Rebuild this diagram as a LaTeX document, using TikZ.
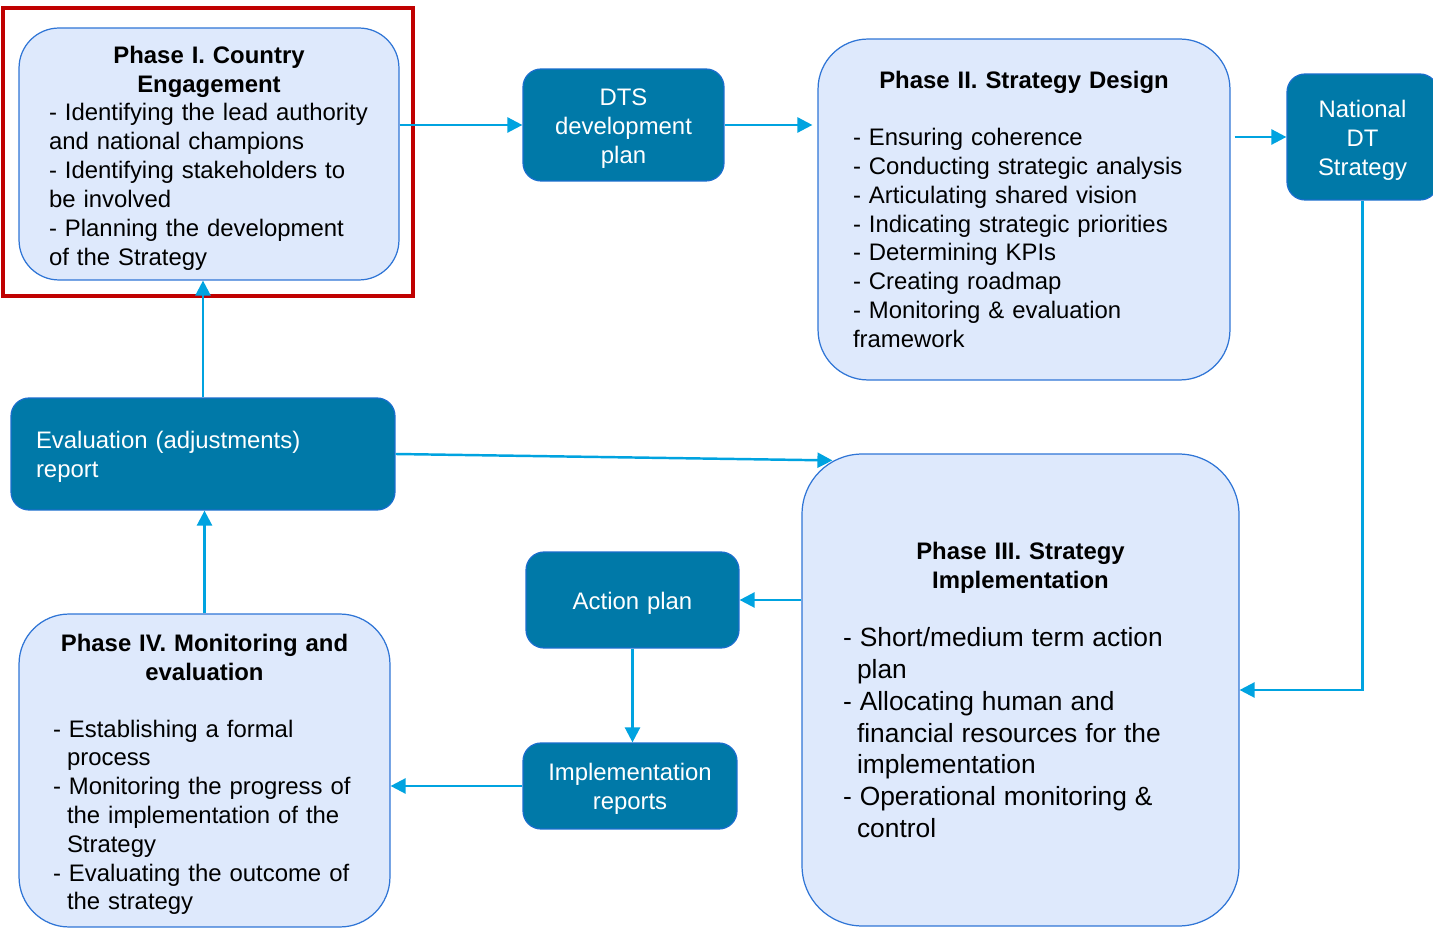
\documentclass[tikz,border=0pt]{standalone}
\usepackage{fontspec}
\setmainfont{Liberation Sans}
\usepackage{xcolor}
\usepackage{tikz}
\usetikzlibrary{
  arrows.meta
}

\definecolor{phasefill}{RGB}{222,233,252}
\definecolor{phaseline}{RGB}{47,117,214}
\definecolor{outputfill}{RGB}{0,121,168}
\definecolor{outputline}{RGB}{25,110,205}
\definecolor{flowline}{RGB}{0,163,224}
\definecolor{highlight}{RGB}{192,0,0}

\newcommand{\bodyfont}{\fontsize{13.6}{16.4}\selectfont}
\newcommand{\largebody}{\fontsize{15}{18.1}\selectfont}
\newcommand{\hang}{\hspace*{0.28cm}}

\begin{document}
\begin{tikzpicture}[
  x=0.02cm, y=-0.02cm,
  lowered/.style={
    execute at begin node={\rule{0pt}{#1}}
  },
  phase/.style={
    rectangle,
    draw=phaseline,
    line width=0.7pt,
    fill=phasefill,
    inner sep=0pt,
    align=left,
    font=\bodyfont
  },
  output/.style={
    rectangle,
    draw=outputline,
    line width=0.7pt,
    fill=outputfill,
    rounded corners=0.36cm,
    text=white,
    align=center,
    inner sep=0pt,
    font=\bodyfont,
    lowered=13.3pt
  },
  flow/.style={
    draw=flowline,
    line width=1.4pt,
    -{Triangle[length=0.3cm,width=0.3cm]}
  }
]
\useasboundingbox[fill=white] (0,0) rectangle (1433,928);

\node [phase, lowered=14.4pt, rounded corners=0.8cm, minimum width=7.6cm, minimum height=5.04cm, text width=6.4cm] (phase-one) at (209,154)
  {\centering\textbf{Phase I. Country\\Engagement}\par\raggedright
   - Identifying the lead authority\\and national champions\\- Identifying stakeholders to\\be involved\\- Planning the development\\of the Strategy};
\draw [highlight, line width=2.6pt] (3,8) rectangle (413,296);

\node [output, minimum width=4.02cm, minimum height=2.24cm, text width=3.6cm] (dts-plan) at (623.5,125) {DTS\\development\\plan};

\node [phase, rounded corners=1cm, minimum width=8.24cm, minimum height=6.82cm, text width=6.84cm] (phase-two) at (1024,209.5)
  {\centering\textbf{Phase II. Strategy Design}\par\vspace{16pt}\raggedright
   - Ensuring coherence\\- Conducting strategic analysis\\- Articulating shared vision\\- Indicating strategic priorities\\- Determining KPIs\\- Creating roadmap\\- Monitoring \& evaluation\\framework};

\node [output, minimum width=3.02cm, minimum height=2.52cm, text width=2.8cm] (national-dt) at (1362.5,137) {National\\DT\\Strategy};

\node [output, minimum width=7.68cm, minimum height=2.24cm, text width=6.68cm, align=left] (eval-report) at (203,454) {Evaluation (adjustments)\\report};

\node [phase, rounded corners=1.2cm, minimum width=8.74cm, minimum height=9.44cm, text width=7.1cm] (phase-three) at (1020.5,690)
  {\centering\textbf{Phase III. Strategy\\Implementation}\par\vspace{15pt}\raggedright\largebody
   - Short/medium term action\\\hang plan\\- Allocating human and\\\hang financial resources for the\\\hang implementation\\- Operational monitoring \&\\\hang control\par};

\node [output, minimum width=4.26cm, minimum height=1.92cm, text width=3.9cm] (action-plan) at (632.5,600) {Action plan};
\node [output, minimum width=4.28cm, minimum height=1.72cm, text width=3.9cm] (impl-reports) at (630,786) {Implementation\\reports};

\node [phase, lowered=14.4pt, rounded corners=1cm, minimum width=7.42cm, minimum height=6.26cm, text width=6.06cm] (phase-four) at (204.5,770.5)
  {\centering\textbf{Phase IV. Monitoring and\\evaluation}\par\vspace{16pt}\raggedright
   - Establishing a formal\\\hang process\\- Monitoring the progress of\\\hang the implementation of the\\\hang Strategy\\- Evaluating the outcome of\\\hang the strategy};

\draw [flow] (phase-one.east |- dts-plan.west) -- (dts-plan.west);
\draw [flow, shorten >=0.1cm] (dts-plan.east) -- (dts-plan.east -| phase-two.west);
\draw [flow, shorten <=0.08cm] (phase-two.east |- national-dt.west) -- (national-dt.west);
\draw [flow] (national-dt.south) |- (phase-three.east);
\draw [flow] (eval-report.east) -- ([xshift=0.62cm,yshift=-0.14cm]phase-three.north west);
\draw [flow] (eval-report.north) -- (eval-report.north |- phase-one.south);
\draw [flow] (phase-four.north) -- (phase-four.north |- eval-report.south);
\draw [flow] (phase-three.west |- action-plan.east) -- (action-plan.east);
\draw [flow] (action-plan.south) -- (action-plan.south |- impl-reports.north);
\draw [flow] (impl-reports.west) -- (impl-reports.west -| phase-four.east);
\end{tikzpicture}
\end{document}
